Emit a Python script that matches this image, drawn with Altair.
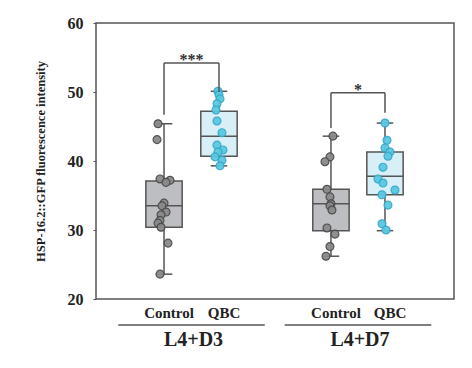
import altair as alt
import pandas as pd

# ---------------- data ----------------
groups = ["Control", "QBC", "Control", "QBC"]
stages = ["L4+D3", "L4+D3", "L4+D7", "L4+D7"]
pos = [1.235, 2.233, 4.266, 5.247]

q1 = [30.4, 40.7, 29.9, 35.1]
med = [33.5, 43.6, 33.8, 37.8]
q3 = [37.1, 47.2, 35.9, 41.3]
lo = [23.6, 39.3, 26.2, 29.9]
hi = [45.4, 50.1, 43.6, 45.5]

ctrl_d3 = [45.4, 43.1, 37.4, 37.2, 36.9, 33.9, 33.5, 32.6, 32.2, 31.4, 31.0, 30.4, 28.1, 23.6]
ctrl_d3_jit = [-6, -7, -4, 6, 2, 0, -2, 2, -3, -4, -6, -3, 4, -4]
qbc_d3 = [50.1, 49.6, 49.0, 48.3, 47.4, 45.8, 44.1, 42.3, 41.6, 41.3, 40.6, 40.1, 39.3]
qbc_d3_jit = [-1, 0, 1, -2, -3, -2, 3, -2, 4, -1, -4, 3, 1]
ctrl_d7 = [43.6, 40.6, 39.9, 35.9, 34.8, 33.8, 33.5, 32.9, 30.3, 29.4, 27.6, 26.2]
ctrl_d7_jit = [2, -1, -6, -4, -1, 0, -1, 1, -4, 4, -1, -5]
qbc_d7 = [45.5, 43.0, 41.9, 41.3, 40.7, 39.1, 37.4, 36.8, 35.8, 35.1, 33.6, 30.9, 30.0]
qbc_d7_jit = [0, 2, 0, 5, 3, -2, -7, -2, 10, -3, 3, -3, 1]

# significance brackets
br_stage = ["L4+D3", "L4+D7"]
br_y = [54.2, 49.9]
br_left_end = [46.7, 44.8]
br_right_end = [50.0, 47.0]
br_label = ["***", "*"]

colors = {"Control": "#bdbec2", "QBC": "#d8eff7"}
pt_fill = {"Control": "#8a8a8a", "QBC": "#5bc8e0"}
pt_stroke = {"Control": "#4a4a4a", "QBC": "#35a9c9"}

PX = 6.5 / 358.0  # data units per pixel on x
BOXH = 0.33
CAPH = 0.15

box_df = pd.DataFrame({
    "group": groups, "stage": stages, "pos": pos,
    "q1": q1, "med": med, "q3": q3, "lo": lo, "hi": hi,
})
box_df["xl"] = box_df["pos"] - BOXH
box_df["xr"] = box_df["pos"] + BOXH
box_df["cl"] = box_df["pos"] - CAPH
box_df["cr"] = box_df["pos"] + CAPH

rows = []
for i, (vals, jit) in enumerate([(ctrl_d3, ctrl_d3_jit), (qbc_d3, qbc_d3_jit),
                                  (ctrl_d7, ctrl_d7_jit), (qbc_d7, qbc_d7_jit)]):
    for v, j in zip(vals, jit):
        rows.append({"group": groups[i], "stage": stages[i], "x": pos[i] + j * PX, "v": v})
pts_df = pd.DataFrame(rows)

br_rows = []
for k, st in enumerate(br_stage):
    idx = [i for i, s in enumerate(stages) if s == st]
    xa, xb = pos[idx[0]], pos[idx[1]]
    br_rows.append({"x": xa, "x2": xb, "y": br_y[k], "y2": br_y[k]})
    br_rows.append({"x": xa, "x2": xa, "y": br_left_end[k], "y2": br_y[k]})
    br_rows.append({"x": xb, "x2": xb, "y": br_right_end[k], "y2": br_y[k]})
br_df = pd.DataFrame(br_rows)
star_df = pd.DataFrame({
    "x": [(pos[0] + pos[1]) / 2, (pos[2] + pos[3]) / 2],
    "y": br_y, "label": br_label,
})

stage_df = pd.DataFrame({
    "stage": ["L4+D3", "L4+D7"],
    "x": [(pos[0] + pos[1]) / 2, (pos[2] + pos[3]) / 2],
})
stage_df["xl"] = stage_df["x"] - 1.33
stage_df["xr"] = stage_df["x"] + 1.33

X = alt.Scale(domain=[0, 6.5], nice=False, zero=False)
Y = alt.Scale(domain=[20, 60], nice=False, zero=False)
GRAY = "#555555"
SERIF = "Liberation Serif"

xq = lambda f: alt.X(f, type="quantitative", scale=X, axis=None)

whisk = alt.Chart(box_df).mark_rule(color=GRAY, strokeWidth=1.5).encode(
    x=xq("pos"),
    y=alt.Y("lo:Q", scale=Y, axis=alt.Axis(values=[20, 30, 40, 50, 60], title="HSP-16.2::GFP fluorescence intensity")),
    y2="hi:Q",
)
cap_hi = alt.Chart(box_df).mark_rule(color=GRAY, strokeWidth=1.5).encode(
    x=xq("cl"), x2="cr:Q", y=alt.Y("hi:Q", scale=Y))
cap_lo = alt.Chart(box_df).mark_rule(color=GRAY, strokeWidth=1.5).encode(
    x=xq("cl"), x2="cr:Q", y=alt.Y("lo:Q", scale=Y))

box_layers = []
point_layers = []
for g in ["Control", "QBC"]:
    box_layers.append(
        alt.Chart(box_df).transform_filter(alt.datum.group == g)
        .mark_rect(stroke=GRAY, strokeWidth=1.5, fill=colors[g])
        .encode(x=xq("xl"), x2="xr:Q", y=alt.Y("q1:Q", scale=Y), y2="q3:Q")
    )
    point_layers.append(
        alt.Chart(pts_df).transform_filter(alt.datum.group == g)
        .mark_circle(size=62, opacity=0.95, strokeWidth=1.2, fill=pt_fill[g], stroke=pt_stroke[g])
        .encode(x=xq("x"), y=alt.Y("v:Q", scale=Y))
    )

median = alt.Chart(box_df).mark_rule(color=GRAY, strokeWidth=1.5).encode(
    x=xq("xl"), x2="xr:Q", y=alt.Y("med:Q", scale=Y))
brackets = alt.Chart(br_df).mark_rule(color=GRAY, strokeWidth=1.5).encode(
    x=xq("x"), x2="x2:Q", y=alt.Y("y:Q", scale=Y), y2="y2:Q")
stars = alt.Chart(star_df).mark_text(font=SERIF, fontSize=16, fontWeight="bold", color="#333",
                                     baseline="bottom", dy=5).encode(
    x=xq("x"), y=alt.Y("y:Q", scale=Y), text="label:N")

grp_lbl = alt.Chart(box_df).mark_text(font=SERIF, fontSize=15, fontWeight="bold", color="#222",
                                      baseline="middle", dx=5).encode(
    x=xq("pos"), y=alt.value(290), text="group:N")
underline = alt.Chart(stage_df).mark_rule(color=GRAY, strokeWidth=1.5).encode(
    x=xq("xl"), x2="xr:Q", y=alt.value(302))
stage_lbl = alt.Chart(stage_df).mark_text(font=SERIF, fontSize=20, fontWeight="bold", color="#222",
                                          baseline="middle", dx=2).encode(
    x=xq("x"), y=alt.value(317), text="stage:N")

chart = alt.layer(
    whisk, cap_hi, cap_lo, *box_layers, median, *point_layers, brackets, stars,
    grp_lbl, underline, stage_lbl,
).properties(
    width=358, height=276,
    autosize=alt.AutoSizeParams(type="none"),
    padding={"left": 88, "top": 15, "right": 10, "bottom": 61},
    background="white",
).configure_view(
    stroke=GRAY, strokeWidth=1.5,
).configure_axis(
    grid=False,
    labelFont=SERIF, labelFontSize=16, labelFontWeight="bold", labelColor="#222",
    titleFont=SERIF, titleFontSize=12.5, titleFontWeight="bold", titleColor="#222",
    domain=False, tickSize=3, tickColor=GRAY, labelPadding=10, titlePadding=20,
)

chart.save("out.html", embed_options={"renderer": "svg", "actions": False})
